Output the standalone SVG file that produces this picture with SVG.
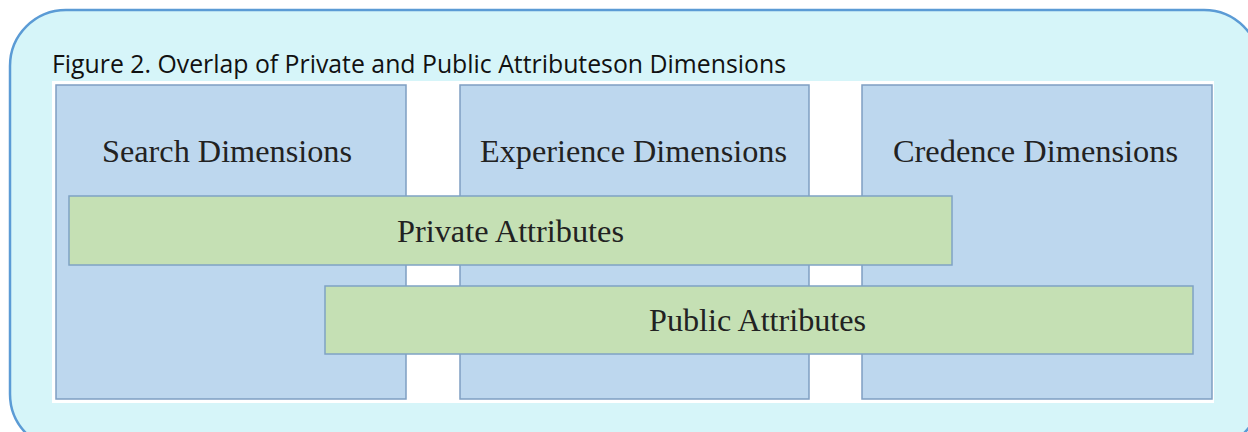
<svg xmlns="http://www.w3.org/2000/svg" width="1248" height="432" viewBox="0 0 1248 432">
<style>
.dim{fill:#bdd7ee;stroke:#7f9fc2;stroke-width:1.5}
.attr{fill:#c5e0b4;stroke:#7fa3c4;stroke-width:1.5}
.lbl{font-family:"Liberation Serif","Times New Roman",serif;font-size:32px;fill:#222;text-anchor:middle}
.title{font-family:"Open Sans","Liberation Sans",sans-serif;font-size:26px;fill:#111}
</style>
<rect x="10" y="10" width="1250" height="440" rx="56" ry="56" fill="#d6f5f9" stroke="#5b9bd5" stroke-width="2.5"/>
<text class="title" x="52" y="73" textLength="734" lengthAdjust="spacingAndGlyphs">Figure 2. Overlap of Private and Public Attributeson Dimensions</text>
<rect x="52" y="81" width="1162" height="322" fill="#ffffff"/>
<g id="search">
<rect class="dim" x="56" y="85" width="350" height="314"/>
<text class="lbl" x="227" y="162" textLength="250" lengthAdjust="spacingAndGlyphs">Search Dimensions</text>
</g>
<g id="experience">
<rect class="dim" x="460" y="85" width="349" height="314"/>
<text class="lbl" x="633.5" y="162" textLength="307" lengthAdjust="spacingAndGlyphs">Experience Dimensions</text>
</g>
<g id="credence">
<rect class="dim" x="862" y="85" width="350" height="314"/>
<text class="lbl" x="1035.5" y="162" textLength="285" lengthAdjust="spacingAndGlyphs">Credence Dimensions</text>
</g>
<g id="private">
<rect class="attr" x="69" y="196" width="883" height="69"/>
<text class="lbl" x="510.5" y="242" textLength="227" lengthAdjust="spacingAndGlyphs">Private Attributes</text>
</g>
<g id="public">
<rect class="attr" x="325" y="286" width="868" height="68"/>
<text class="lbl" x="757.5" y="331" textLength="217" lengthAdjust="spacingAndGlyphs">Public Attributes</text>
</g>
<g id="connectors"></g>
</svg>
